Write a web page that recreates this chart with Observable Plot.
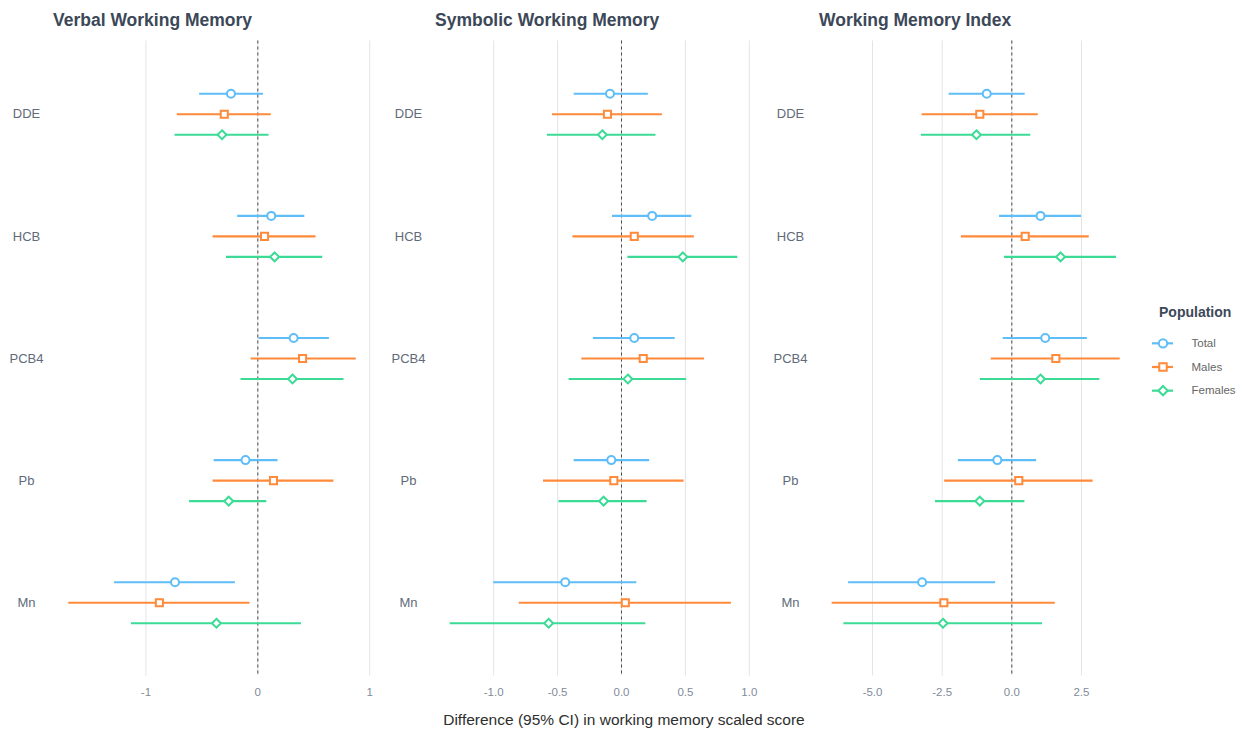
<!DOCTYPE html>
<html><head><meta charset="utf-8">
<script src="https://cdn.jsdelivr.net/npm/d3@7"></script>
<script src="https://cdn.jsdelivr.net/npm/@observablehq/plot@0.6"></script>
<style>
body{margin:0;background:#fff;font-family:"Liberation Sans",Arial,sans-serif;}
#fig{position:relative;width:1248px;height:730px;overflow:hidden;background:#fff;}
.ttl{position:absolute;top:9px;font-size:17.5px;font-weight:bold;color:#3c4858;white-space:nowrap;line-height:22px;}
.panel{position:absolute;top:30px;}
#xt{position:absolute;left:0;width:1248px;top:710px;text-align:center;font-size:15.5px;color:#2e2e2e;line-height:20px;}
#legt{position:absolute;left:1159px;top:303px;font-size:14px;font-weight:bold;color:#3c4858;line-height:18px;}
#leg{position:absolute;left:1148px;top:331px;}
</style></head><body><div id="fig"></div><script>
// ---- data ----
const outcomes = ["Verbal Working Memory", "Symbolic Working Memory", "Working Memory Index"];
const exposures = ["DDE", "HCB", "PCB4", "Pb", "Mn"];
const populations = ["Total", "Males", "Females"];

const verbalEst = {Total: [-0.24, 0.12, 0.32, -0.11, -0.74], Males: [-0.30, 0.06, 0.40, 0.14, -0.88], Females: [-0.32, 0.15, 0.31, -0.26, -0.37]};
const verbalLo  = {Total: [-0.52, -0.18, 0.01, -0.39, -1.28], Males: [-0.72, -0.40, -0.06, -0.40, -1.69], Females: [-0.74, -0.28, -0.15, -0.61, -1.13]};
const verbalHi  = {Total: [0.05, 0.42, 0.64, 0.18, -0.20], Males: [0.12, 0.52, 0.88, 0.68, -0.07], Females: [0.10, 0.58, 0.77, 0.08, 0.39]};

const symbolicEst = {Total: [-0.09, 0.24, 0.10, -0.08, -0.44], Males: [-0.11, 0.10, 0.17, -0.06, 0.03], Females: [-0.15, 0.48, 0.05, -0.14, -0.57]};
const symbolicLo  = {Total: [-0.37, -0.07, -0.22, -0.37, -1.00], Males: [-0.54, -0.38, -0.31, -0.61, -0.80], Females: [-0.58, 0.05, -0.41, -0.49, -1.34]};
const symbolicHi  = {Total: [0.21, 0.55, 0.42, 0.22, 0.12], Males: [0.32, 0.57, 0.65, 0.49, 0.86], Females: [0.27, 0.91, 0.51, 0.20, 0.19]};

const wmiEst = {Total: [-0.90, 1.03, 1.20, -0.52, -3.22], Males: [-1.15, 0.48, 1.58, 0.25, -2.44], Females: [-1.27, 1.75, 1.03, -1.15, -2.47]};
const wmiLo  = {Total: [-2.25, -0.44, -0.31, -1.92, -5.86], Males: [-3.22, -1.81, -0.74, -2.41, -6.45], Females: [-3.25, -0.26, -1.13, -2.74, -6.03]};
const wmiHi  = {Total: [0.48, 2.50, 2.71, 0.89, -0.58], Males: [0.95, 2.78, 3.89, 2.92, 1.56], Females: [0.68, 3.76, 3.16, 0.47, 1.10]};

const verbalTicks = [-1, 0, 1];
const symbolicTicks = [-1, -0.5, 0, 0.5, 1];
const wmiTicks = [-5, -2.5, 0, 2.5];

const popColors = ["#5FBDF8", "#FF8A3A", "#3BDB95"];
const popSymbols = ["circle", "square", "diamond2"];
const xTitle = "Difference (95% CI) in working memory scaled score";

// ---- layout ----
const fig = document.getElementById("fig");
const FONT = '"Liberation Sans", Arial, sans-serif';
const dyOff = [-20.5, 0, 20.5];

function panel(cfg) {
  const rows = [];
  populations.forEach(p => exposures.forEach((e, j) => rows.push({exposure: e, population: p, est: cfg.est[p][j], lo: cfg.lo[p][j], hi: cfg.hi[p][j]})));
  const marks = [
    Plot.gridX({ticks: cfg.ticks, stroke: "#e4e4e4", strokeOpacity: 1, strokeWidth: 1}),
    Plot.ruleX([0], {stroke: "#4a4a4a", strokeDasharray: "3,3", strokeWidth: 1})
  ];
  populations.forEach((p, i) => {
    const d = rows.filter(r => r.population === p);
    marks.push(Plot.ruleY(d, {y: "exposure", x1: "lo", x2: "hi", stroke: "population", strokeWidth: 2.2, dy: dyOff[i]}));
    marks.push(Plot.dot(d, {y: "exposure", x: "est", symbol: "population", r: 4, stroke: "population", strokeWidth: 2, fill: "white", dy: dyOff[i]}));
  });
  marks.push(Plot.axisX({ticks: cfg.ticks, tickSize: 0, tickPadding: 12, tickFormat: cfg.fmt, fill: "#7f8b99", fontSize: 11.5, label: null}));
  marks.push(Plot.axisY({tickSize: 0, tickPadding: cfg.lab, textAnchor: "middle", fill: "#5f6b7a", fontSize: 13, label: null}));
  const svg = Plot.plot({
    width: cfg.ml + cfg.pw + 6, height: 680,
    marginLeft: cfg.ml, marginRight: 6, marginTop: 10.5, marginBottom: 34.5,
    x: {domain: cfg.domain},
    y: {type: "point", domain: exposures, padding: 0.6, round: false},
    color: {domain: populations, range: popColors},
    symbol: {domain: populations, range: popSymbols},
    style: {fontFamily: FONT, background: "transparent", overflow: "visible"},
    marks
  });
  const wrap = document.createElement("div");
  wrap.className = "panel";
  wrap.style.left = cfg.left + "px";
  wrap.appendChild(svg);
  fig.appendChild(wrap);
  const t = document.createElement("div");
  t.className = "ttl";
  t.style.left = (cfg.left + cfg.ml + 1) + "px";
  t.textContent = cfg.title;
  fig.appendChild(t);
}

panel({title: outcomes[0], est: verbalEst, lo: verbalLo, hi: verbalHi, ticks: verbalTicks, fmt: d => String(d),
  domain: [-1.835, 1.007], left: 0, ml: 52, pw: 318, lab: 26});
panel({title: outcomes[1], est: symbolicEst, lo: symbolicLo, hi: symbolicHi, ticks: symbolicTicks, fmt: d => d.toFixed(1),
  domain: [-1.463, 1.025], left: 380, ml: 54, pw: 318, lab: 26});
panel({title: outcomes[2], est: wmiEst, lo: wmiLo, hi: wmiHi, ticks: wmiTicks, fmt: d => d.toFixed(1),
  domain: [-6.94, 4.44], left: 764, ml: 54, pw: 317, lab: 28});

const xt = document.createElement("div");
xt.id = "xt"; xt.textContent = xTitle; fig.appendChild(xt);

// legend
const lt = document.createElement("div");
lt.id = "legt"; lt.textContent = "Population"; fig.appendChild(lt);
const legSvg = Plot.plot({
  width: 100, height: 71, marginLeft: 4, marginRight: 75, marginTop: 0, marginBottom: 0,
  y: {type: "point", domain: populations, padding: 0.5, axis: null, round: false},
  x: {axis: null},
  color: {domain: populations, range: popColors},
  symbol: {domain: populations, range: popSymbols},
  style: {fontFamily: FONT, background: "transparent", overflow: "visible"},
  marks: [
    Plot.ruleY(populations, {y: d => d, stroke: d => d, strokeWidth: 2.2}),
    Plot.dot(populations, {y: d => d, frameAnchor: "middle", symbol: d => d, stroke: d => d, r: 4.2, strokeWidth: 2, fill: "white"}),
    Plot.axisY({anchor: "right", tickSize: 0, tickPadding: 18, fill: "#666", fontSize: 11.5, label: null})
  ]
});
const lg = document.createElement("div");
lg.id = "leg"; lg.appendChild(legSvg); fig.appendChild(lg);
</script></body></html>
